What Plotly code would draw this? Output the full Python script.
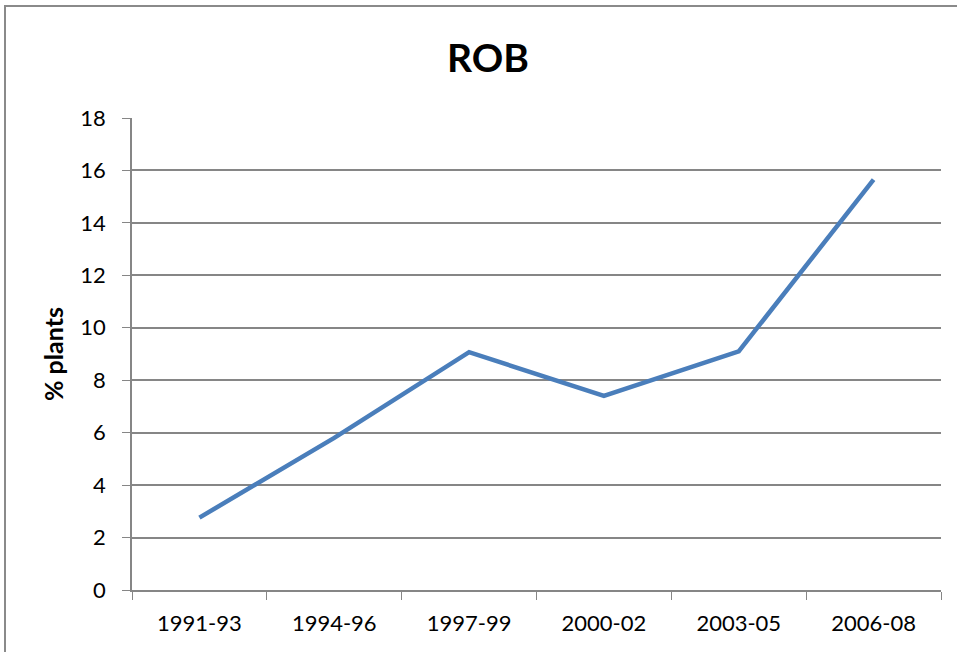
import plotly.graph_objects as go

categories = ["1991-93", "1994-96", "1997-99", "2000-02", "2003-05", "2006-08"]
values = [2.76, 5.8, 9.07, 7.40, 9.10, 15.65]
y_ticks = [0, 2, 4, 6, 8, 10, 12, 14, 16, 18]
title_text = "ROB"
y_title = "% plants"

W, H = 957, 652
L, R, T, B = 132, 16, 118, 62
pw, ph = W - L - R, H - T - B

def px_x(p):
    return (p - L) / pw

def px_y(p):
    return (H - B - p) / ph

fig = go.Figure()
fig.add_trace(go.Scatter(
    x=categories, y=values, mode="lines",
    line=dict(color="#4a7ebb", width=4.5),
    showlegend=False, hoverinfo="x+y",
))

font_family = "Lato, 'Open Sans', sans-serif"
grid_color = "#868686"
fs = 22

fig.update_layout(
    width=W, height=H,
    margin=dict(l=L, r=R, t=T, b=B),
    paper_bgcolor="white", plot_bgcolor="white",
    font=dict(family=font_family, color="black", size=fs),
    title=dict(text="<b>" + title_text + "</b>", x=px_x(488), xref="paper",
               xanchor="center", y=1 - 58 / H, yanchor="middle",
               font=dict(size=39, family=font_family, color="black")),
    xaxis=dict(
        type="category", tickson="boundaries", ticks="outside", ticklen=8,
        tickcolor=grid_color, showline=True, linecolor=grid_color, linewidth=1.5,
        showgrid=False, tickfont=dict(size=fs), range=[-0.5, 5.5],
        ticklabelstandoff=13,
    ),
    yaxis=dict(
        range=[0, 18], tickvals=y_ticks, ticks="outside", ticklen=8,
        tickcolor=grid_color, showline=True, linecolor=grid_color, linewidth=1.5,
        showgrid=True, gridcolor=grid_color, gridwidth=1.5,
        tickfont=dict(size=fs), zeroline=False, ticklabelstandoff=12,
        title=dict(text="<b>" + y_title + "</b>", font=dict(size=25), standoff=10),
    ),
    shapes=[dict(type="rect", xref="paper", yref="paper",
                 x0=px_x(5), x1=px_x(W + 20), y0=px_y(H + 20), y1=px_y(6),
                 line=dict(color="#8a8a8a", width=2), fillcolor="rgba(0,0,0,0)",
                 layer="below")],
)

fig.write_html("out.html")
